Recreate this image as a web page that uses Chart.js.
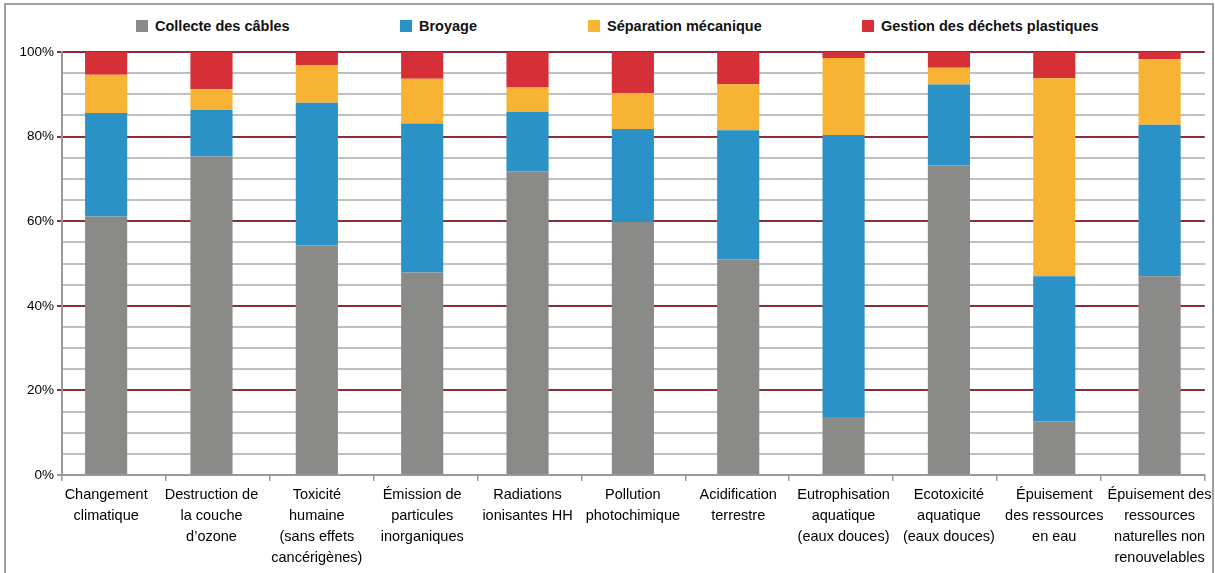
<!DOCTYPE html>
<html lang="fr">
<head>
<meta charset="utf-8">
<script src="https://cdn.jsdelivr.net/npm/chart.js@4"></script>
<style>
    body { margin: 0; background: #fff; }
    #wrap { position: relative; width: 1215px; height: 573px; overflow: hidden; font-family: "Liberation Sans", Arial, sans-serif; }
    #frame { position: absolute; left: 4px; top: 3px; width: 1210px; height: 620px; border: 2px solid #a0a0a0; box-sizing: border-box; }
    #legend { position: absolute; top: 18px; left: 0; width: 1215px; height: 18px; font-weight: bold; font-size: 14.5px; color: #111; }
    #legend span.item { position: absolute; top: 0; display: flex; align-items: center; white-space: nowrap; }
    #legend span.box { display: inline-block; width: 12px; height: 12px; margin-right: 7px; }
    #chart { position: absolute; left: 0; top: 0; }
</style>
</head>
<body>
<div id="wrap">
    <div id="frame"></div>
    <div id="legend"></div>
    <canvas id="chart" width="1215" height="573"></canvas>
</div>
<script>
const categories = [
    ["Changement", "climatique"],
    ["Destruction de", "la couche", "d’ozone"],
    ["Toxicité", "humaine", "(sans effets", "cancérigènes)"],
    ["Émission de", "particules", "inorganiques"],
    ["Radiations", "ionisantes HH"],
    ["Pollution", "photochimique"],
    ["Acidification", "terrestre"],
    ["Eutrophisation", "aquatique", "(eaux douces)"],
    ["Ecotoxicité", "aquatique", "(eaux douces)"],
    ["Épuisement", "des ressources", "en eau"],
    ["Épuisement des", "ressources", "naturelles non", "renouvelables"]
];

// parts in % of each impact
const collecte = [61.1, 75.3, 54.3, 47.9, 71.8, 59.8, 51.0, 13.7, 73.2, 12.7, 47.0];
const broyage = [24.5, 11.0, 33.7, 35.2, 14.1, 22.0, 30.5, 66.7, 19.1, 34.3, 35.8];
const separation = [9.0, 4.9, 8.9, 10.6, 5.7, 8.5, 10.9, 18.2, 4.0, 46.8, 15.5];
const gestion = [5.4, 8.8, 3.1, 6.3, 8.4, 9.7, 7.6, 1.4, 3.7, 6.2, 1.7];

const seriesNames = ["Collecte des câbles", "Broyage", "Séparation mécanique", "Gestion des déchets plastiques"];
const seriesColors = ["#8a8b88", "#2a92c6", "#f6b334", "#d52f38"];

const font = "'Liberation Sans', Arial, sans-serif";

// legend (html, spaced like the original)
const legendLeft = [136, 400, 588, 862];
const legendEl = document.getElementById("legend");
seriesNames.forEach((name, i) => {
    const item = document.createElement("span");
    item.className = "item";
    item.style.left = legendLeft[i] + "px";
    item.innerHTML = '<span class="box" style="background:' + seriesColors[i] + '"></span>' + name;
    legendEl.appendChild(item);
});

const values = [collecte, broyage, separation, gestion];

const ctx = document.getElementById("chart").getContext("2d");
new Chart(ctx, {
    type: "bar",
    data: {
        labels: categories,
        datasets: values.map((data, i) => ({
            label: seriesNames[i],
            data: data.map((v, j) => ({ x: j, y: v })),
            xAxisID: "xb",
            backgroundColor: seriesColors[i],
            barPercentage: 0.4,
            categoryPercentage: 1.0,
        })),
    },
    options: {
        responsive: false,
        animation: false,
        layout: { padding: { top: 52, right: 8, left: 0, bottom: 0 } },
        plugins: {
            legend: { display: false },
            tooltip: { enabled: false },
        },
        scales: {
            // category axis: only the axis line and the tick marks between categories
            x: {
                type: "category",
                position: "bottom",
                weight: 0,
                offset: true,
                afterFit: (scale) => { scale.height = 6; },
                grid: { offset: true, drawOnChartArea: false, color: "#999", tickLength: 6, lineWidth: 1.5 },
                border: { color: "#999", width: 2 },
                ticks: { display: false },
            },
            // bars and labels (Excel spreads them a bit wider than the gridlines)
            xb: {
                type: "linear",
                position: "bottom",
                weight: 1,
                stacked: true,
                offset: false,
                min: -0.419,
                max: 10.429,
                afterFit: (scale) => { scale.height = 92; },
                grid: { display: false, drawTicks: false, tickLength: 0 },
                border: { display: false },
                ticks: {
                    stepSize: 1,
                    includeBounds: false,
                    autoSkip: false,
                    maxRotation: 0,
                    color: "#000",
                    padding: 3,
                    font: { family: font, size: 14.5, lineHeight: 1.45 },
                    callback: (v) => categories[v] || "",
                },
            },
            y: {
                stacked: true,
                min: 0,
                max: 100,
                afterFit: (scale) => { scale.width = 62; },
                grid: {
                    lineWidth: 2,
                    color: (c) => (c.tick && c.tick.value % 20 === 0 && c.tick.value > 0 ? "#8c2d3c" : "#bfbfbf"),
                    tickColor: (c) => (c.tick && c.tick.value % 20 === 0 ? (c.tick.value > 0 ? "#8c2d3c" : "#999") : "rgba(0,0,0,0)"),
                    tickLength: 5,
                },
                border: { color: "#999", width: 2 },
                ticks: {
                    stepSize: 5,
                    autoSkip: false,
                    color: "#000",
                    padding: 3,
                    font: { family: font, size: 13.5 },
                    callback: (v) => (v % 20 === 0 ? v + "%" : ""),
                },
            },
        },
    },
});
</script>
</body>
</html>
